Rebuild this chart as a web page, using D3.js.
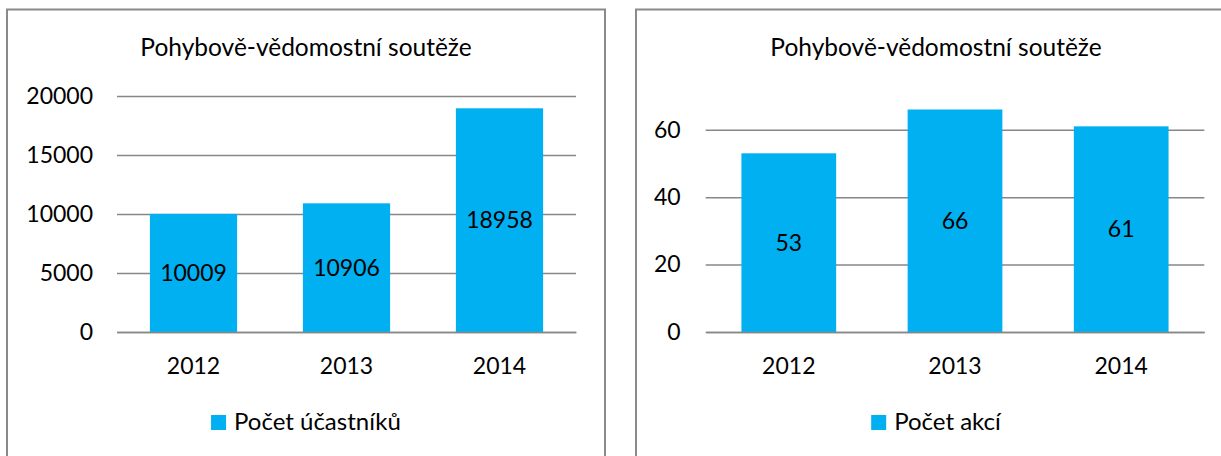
<!DOCTYPE html>
<html>
<head>
<meta charset="utf-8">
<script src="https://cdn.jsdelivr.net/npm/d3@7"></script>
<style>
  body { margin: 0; background: #fff; }
  svg text { font-family: Lato, "Open Sans", sans-serif; fill: #000; }
</style>
</head>
<body>
<div id="chart"></div>
<script>
"use strict";

// data
const years = ["2012", "2013", "2014"];
const participants = [10009, 10906, 18958];
const events = [53, 66, 61];
const participantTicks = [0, 5000, 10000, 15000, 20000];
const eventTicks = [0, 20, 40, 60];
const chartTitle = "Pohybově-vědomostní soutěže";
const participantsLabel = "Počet účastníků";
const eventsLabel = "Počet akcí";

const barColor = "#00b0f0";
const gridColor = "#878787";
const fontSize = 23;

const svg = d3.select("#chart").append("svg")
  .attr("width", 1221)
  .attr("height", 456);

// one framed chart; frame = box of the chart, plot = inner plot area
function drawChart(opts) {
  let g = svg.append("g");

  // frame
  g.append("rect")
    .attr("x", opts.frame.x)
    .attr("y", opts.frame.y)
    .attr("width", opts.frame.w)
    .attr("height", 480)
    .attr("fill", "#fff")
    .attr("stroke", "#8a8a8a")
    .attr("stroke-width", 2);

  let xScale = d3.scaleBand()
    .domain(years)
    .range([opts.plot.left, opts.plot.right])
    .paddingInner(0.43)
    .paddingOuter(0.215);

  let yScale = d3.scaleLinear()
    .domain([0, opts.yMax])
    .range([opts.plot.bottom, opts.plot.top]);

  // gridlines + tick labels
  let yAxis = d3.axisLeft(yScale)
    .tickValues(opts.ticks)
    .tickSize(-(opts.plot.right - opts.plot.left))
    .tickPadding(opts.tickPadding)
    .tickFormat(d3.format("d"));

  let yg = g.append("g")
    .attr("transform", `translate(${opts.plot.left},0)`)
    .call(yAxis);
  yg.select(".domain").remove();
  yg.selectAll(".tick line")
    .attr("stroke", gridColor)
    .attr("stroke-width", 1.5);
  yg.selectAll(".tick text")
    .style("font-size", fontSize + "px")
    .attr("fill", "#000");

  // bars
  g.selectAll(".bar").data(opts.values)
    .enter().append("rect")
    .attr("class", "bar")
    .attr("x", (d, i) => xScale(years[i]))
    .attr("width", xScale.bandwidth())
    .attr("y", d => yScale(d))
    .attr("height", d => yScale(0) - yScale(d))
    .attr("fill", barColor);

  // value labels, centred in the bar
  g.selectAll(".valueLabel").data(opts.values)
    .enter().append("text")
    .attr("class", "valueLabel")
    .attr("text-anchor", "middle")
    .attr("x", (d, i) => xScale(years[i]) + xScale.bandwidth() / 2)
    .attr("y", d => (yScale(d) + yScale(0)) / 2)
    .attr("dy", "0.36em")
    .style("font-size", fontSize + "px")
    .text(d => d);

  // category axis
  let xAxis = d3.axisBottom(xScale).tickSize(0).tickPadding(26);
  let xg = g.append("g")
    .attr("transform", `translate(0,${opts.plot.bottom})`)
    .call(xAxis);
  xg.select(".domain")
    .attr("stroke", gridColor)
    .attr("stroke-width", 1.5);
  xg.selectAll(".tick text")
    .style("font-size", fontSize + "px")
    .attr("fill", "#000");

  // title
  let cx = opts.frame.x + opts.frame.w / 2;
  g.append("text")
    .attr("text-anchor", "middle")
    .attr("x", cx)
    .attr("y", 56)
    .style("font-size", "24.5px")
    .text(chartTitle);

  // legend
  let legend = g.append("g");
  let lt = legend.append("text")
    .attr("x", 0)
    .attr("y", 430)
    .style("font-size", "24px")
    .text(opts.seriesName);
  let tw = lt.node().getComputedTextLength();
  let total = 15 + 8 + tw;
  let x0 = cx - total / 2;
  legend.append("rect")
    .attr("x", x0)
    .attr("y", 415)
    .attr("width", 15)
    .attr("height", 15)
    .attr("fill", barColor);
  lt.attr("x", x0 + 23);
}

drawChart({
  frame: {x: 7, y: 9.5, w: 598},
  plot: {left: 117, right: 576, top: 96, bottom: 332},
  yMax: 20000,
  ticks: participantTicks,
  tickPadding: 24,
  values: participants,
  seriesName: participantsLabel
});

drawChart({
  frame: {x: 636, y: 9.5, w: 600},
  plot: {left: 705.7, right: 1204.3, top: 96, bottom: 332},
  yMax: 70,
  ticks: eventTicks,
  tickPadding: 25,
  values: events,
  seriesName: eventsLabel
});
</script>
</body>
</html>
